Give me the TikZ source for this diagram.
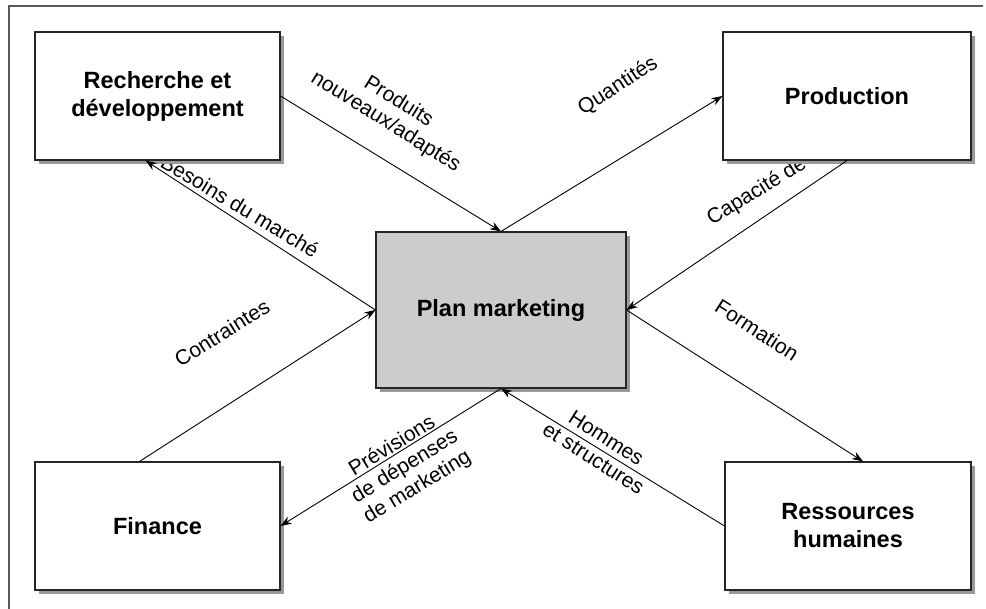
\documentclass[tikz,border=0pt]{standalone}
\usepackage{fontspec}
\setmainfont{Liberation Sans}
\usepackage{tikz}
\usetikzlibrary{arrows.meta,positioning,shadows,calc}
\definecolor{planfill}{gray}{0.8}
\definecolor{shadowgray}{gray}{0.6}

\begin{document}
\begin{tikzpicture}[x=1pt,y=-1pt,>={Stealth[length=11pt,width=8pt]},
  box/.style={draw=black!85,line width=1.1pt,fill=white,align=center,
    font=\fontsize{23.5}{28}\selectfont\bfseries,
    drop shadow={shadow xshift=4pt,shadow yshift=-4pt,fill=shadowgray,opacity=1}},
  lbl/.style={font=\fontsize{21}{24}\selectfont,align=center,inner sep=0pt},
  flow/.style={->,line width=0.9pt}]
  \useasboundingbox (0,0) rectangle (986,609);
  \draw[black!65,line width=1.2pt] (9,609) -- (9,6) -- (983,6);
  % labels along the flows
  \node[lbl,rotate=-32] (lprod) at (392,112) {Produits\\nouveaux/adaptés};
  \node[lbl,rotate=33] (lquant) at (618,86) {Quantités};
  \node[lbl,rotate=-31] (lbesoins) at (240,206) {Besoins du marché};
  \node[lbl,rotate=32] (lcontr) at (222,333) {Contraintes};
  \node[lbl,rotate=31.6,anchor=base west] (lcapac) at (712,226) {Capacité de livraison};
  \node[lbl,rotate=-33] (lform) at (757,330) {Formation};
  \node[lbl,rotate=-32.5] (lhommes) at (600,448) {Hommes\\et structures};
  \node[lbl,rotate=31.5] (lprev) at (405,467) {Prévisions\\de dépenses\\de marketing};
  % boxes
  \node[box,minimum width=245,minimum height=128] (rd) at (157.5,96) {Recherche et\\développement};
  \node[box,minimum width=248,minimum height=128] (prod) at (847,96) {Production};
  \node[box,minimum width=245,minimum height=128] (fin) at (157.5,526) {Finance};
  \node[box,minimum width=246,minimum height=128] (rh) at (848,526) {Ressources\\humaines};
  \node[box,fill=planfill,minimum width=250,minimum height=156] (plan) at (501,310) {Plan marketing};
  % flows
  \draw[flow] (rd.east) -- (plan.north);
  \draw[flow] (plan.north) -- (prod.west);
  \draw[flow] (plan.west) -- ($(rd.south)+(-12,0)$);
  \draw[flow] ($(fin.north)+(-18,0)$) -- (plan.west);
  \draw[flow] (prod.south) -- (plan.east);
  \draw[flow] (plan.east) -- ($(rh.north)+(15,0)$);
  \draw[flow] (plan.south) -- (fin.east);
  \draw[flow] (rh.west) -- (plan.south);
\end{tikzpicture}
\end{document}
